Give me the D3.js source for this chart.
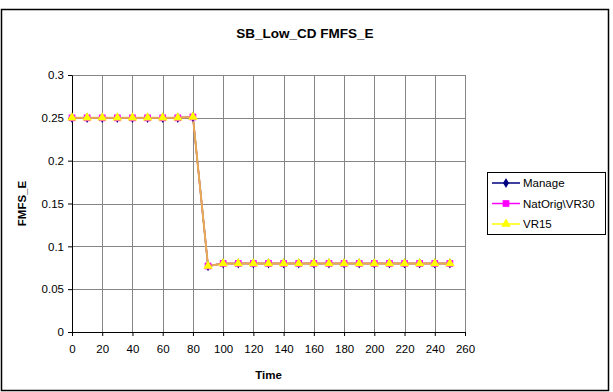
<!DOCTYPE html>
<html>
<head>
<meta charset="utf-8">
<script src="https://cdn.jsdelivr.net/npm/d3@7"></script>
<style>
  html, body { margin: 0; padding: 0; background: #fff; }
  svg { display: block; font-family: "Liberation Sans", Arial, sans-serif; }
</style>
</head>
<body>
<svg id="chart" width="613" height="392"></svg>
<script>
const title = "SB_Low_CD FMFS_E";
const xLabel = "Time";
const yLabel = "FMFS_E";
const times = [0,10,20,30,40,50,60,70,80,90,100,110,120,130,140,150,160,170,180,190,200,210,220,230,240,250];
const manage    = [0.25,0.25,0.25,0.25,0.25,0.25,0.25,0.25,0.251,0.077,0.08,0.08,0.08,0.08,0.08,0.08,0.08,0.08,0.08,0.08,0.08,0.08,0.08,0.08,0.08,0.08];
const natOrig   = [0.25,0.25,0.25,0.25,0.25,0.25,0.25,0.25,0.251,0.077,0.08,0.08,0.08,0.08,0.08,0.08,0.08,0.08,0.08,0.08,0.08,0.08,0.08,0.08,0.08,0.08];
const vr15      = [0.25,0.25,0.25,0.25,0.25,0.25,0.25,0.25,0.251,0.077,0.08,0.08,0.08,0.08,0.08,0.08,0.08,0.08,0.08,0.08,0.08,0.08,0.08,0.08,0.08,0.08];
const seriesNames = ["Manage", "NatOrig\\VR30", "VR15"];
const xTicks = [0,20,40,60,80,100,120,140,160,180,200,220,240,260];
const yTicks = [0,0.05,0.1,0.15,0.2,0.25,0.3];

const series = [
  {name: seriesNames[0], values: manage,  color: "#000080", marker: d3.symbolDiamond, size: 30},
  {name: seriesNames[1], values: natOrig, color: "#FF00FF", marker: d3.symbolSquare,  size: 45},
  {name: seriesNames[2], values: vr15,    color: "#FFFF00", marker: d3.symbolTriangle, size: 40}
];

const svg = d3.select("#chart");
// outer frame
svg.append("rect").attr("x", 1.5).attr("y", 9.5).attr("width", 607).attr("height", 381)
  .attr("fill", "#fff").attr("stroke", "#000").attr("stroke-width", 1.5);

const x = d3.scaleLinear().domain([0, 260]).range([72, 465]);
const y = d3.scaleLinear().domain([0, 0.3]).range([332, 75]);

// gridlines
const g = svg.append("g");
g.selectAll(".vg").data(xTicks.slice(1)).join("line")
  .attr("x1", d => Math.round(x(d)) + 0.5).attr("x2", d => Math.round(x(d)) + 0.5)
  .attr("y1", y(0.3)).attr("y2", y(0)).attr("stroke", "#858585").attr("stroke-width", 1);
g.selectAll(".hg").data(yTicks.slice(1)).join("line")
  .attr("x1", x(0)).attr("x2", x(260))
  .attr("y1", d => Math.round(y(d)) + 0.5).attr("y2", d => Math.round(y(d)) + 0.5)
  .attr("stroke", "#858585").attr("stroke-width", 1);

// axes
const xAxis = d3.axisBottom(x).tickValues(xTicks).tickSize(4).tickSizeOuter(0).tickPadding(9);
const yAxis = d3.axisLeft(y).tickValues(yTicks).tickSize(4).tickSizeOuter(0).tickPadding(4)
  .tickFormat(d => String(+d.toFixed(2)));
const gx = svg.append("g").attr("transform", `translate(0,${y(0)})`).call(xAxis);
const gy = svg.append("g").attr("transform", `translate(${x(0)},0)`).call(yAxis);
[gx, gy].forEach(a => {
  a.selectAll("path,line").attr("stroke", "#000");
  a.selectAll("text").attr("font-size", 11.5).attr("fill", "#000")
    .attr("font-family", "Liberation Sans, Arial, sans-serif");
});

// lines and markers
const line = d3.line().x((d, i) => x(times[i])).y(d => y(d));
series.forEach((s, k) => {
  svg.append("path").datum(s.values).attr("d", line)
    .attr("fill", "none").attr("stroke", s.color)
    .attr("stroke-width", 1.5);
});
// blended appearance of the overlapping lines in the reference
svg.append("path").datum(vr15).attr("d", line)
  .attr("fill", "none").attr("stroke", "#e0a060").attr("stroke-width", 2).attr("opacity", 0.85);
series.forEach(s => {
  svg.append("g").selectAll("path").data(s.values).join("path")
    .attr("transform", (d, i) => `translate(${x(times[i])},${y(d)})`)
    .attr("d", d3.symbol().type(s.marker).size(s.size))
    .attr("fill", s.color).attr("stroke", "none");
});

// titles
svg.append("text").attr("x", 305).attr("y", 38).attr("text-anchor", "middle")
  .attr("font-size", 13.5).attr("font-weight", "bold").text(title);
svg.append("text").attr("x", (x(0) + x(260)) / 2).attr("y", 379).attr("text-anchor", "middle")
  .attr("font-size", 11.5).attr("font-weight", "bold").text(xLabel);
svg.append("text").attr("transform", `translate(26,${(y(0) + y(0.3)) / 2}) rotate(-90)`)
  .attr("text-anchor", "middle").attr("font-size", 11.5).attr("font-weight", "bold").text(yLabel);

// legend
const lg = svg.append("g");
lg.append("rect").attr("x", 487.5).attr("y", 172.5).attr("width", 118).attr("height", 62)
  .attr("fill", "#fff").attr("stroke", "#000").attr("stroke-width", 1);
series.forEach((s, i) => {
  const yy = 183 + i * 20.5;
  lg.append("line").attr("x1", 492).attr("x2", 520).attr("y1", yy).attr("y2", yy)
    .attr("stroke", s.color).attr("stroke-width", 1.5);
  lg.append("path").attr("transform", `translate(506,${yy})`)
    .attr("d", d3.symbol().type(s.marker).size(s.size)).attr("fill", s.color);
  lg.append("text").attr("x", 523).attr("y", yy + 4).attr("font-size", 11.5).text(s.name);
});
</script>
</body>
</html>
